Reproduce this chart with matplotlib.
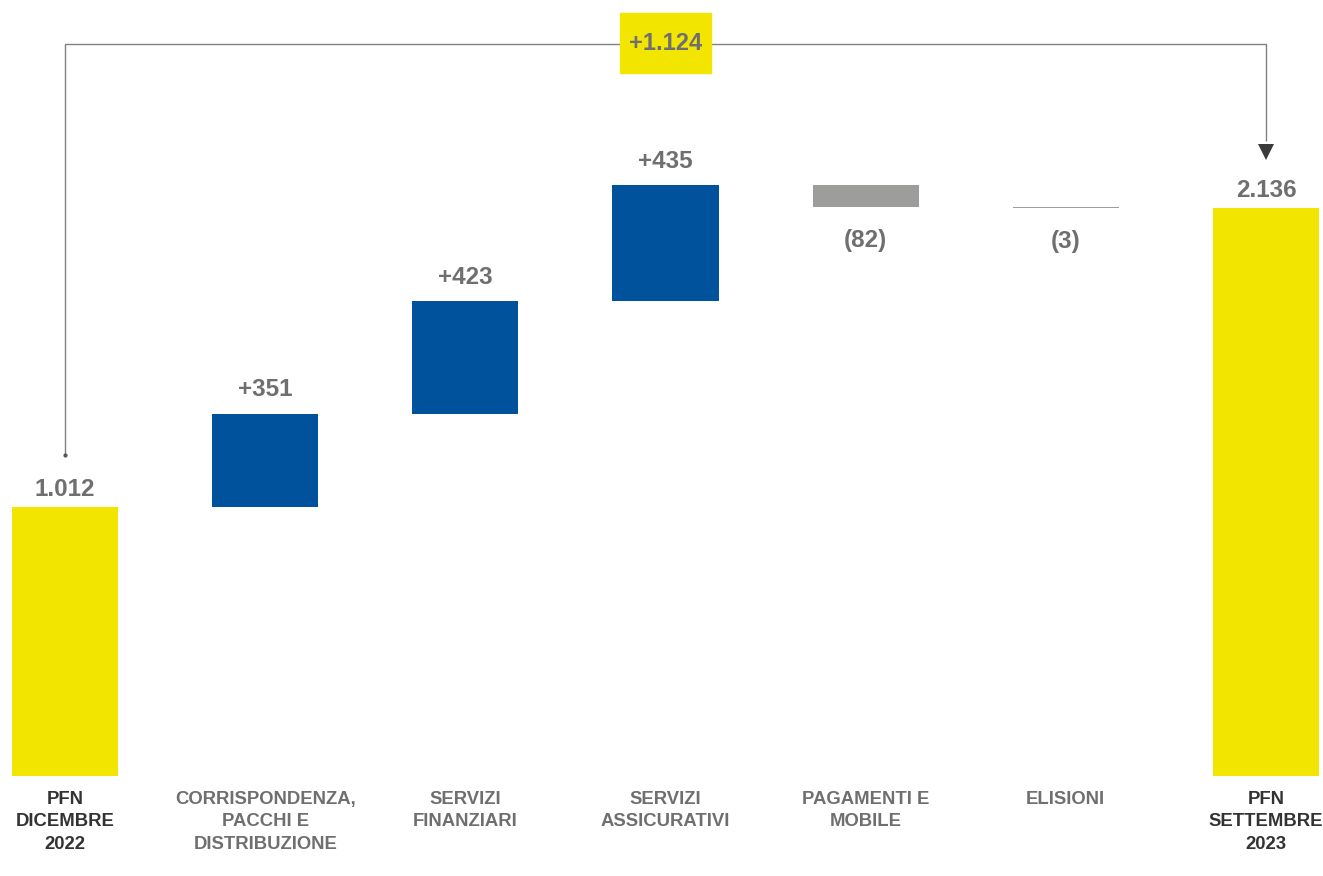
import matplotlib.pyplot as plt
from matplotlib.patches import Rectangle
import numpy as np

plt.rcParams['font.family'] = ['Liberation Sans', 'DejaVu Sans']

# dati
categorie = ['PFN\nDICEMBRE\n2022', 'CORRISPONDENZA,\nPACCHI E\nDISTRIBUZIONE',
             'SERVIZI\nFINANZIARI', 'SERVIZI\nASSICURATIVI', 'PAGAMENTI E\nMOBILE',
             'ELISIONI', 'PFN\nSETTEMBRE\n2023']
pfn_iniziale = 1012
variazioni = [351, 423, 435, -82, -3]
pfn_finale = 2136
etichette = ['1.012', '+351', '+423', '+435', '(82)', '(3)', '2.136']
etichetta_delta = '+1.124'

GIALLO = '#F2E500'
BLU = '#00529C'
GRIGIO_BAR = '#9D9D9C'
GRIGIO_TXT = '#6F6F6F'
SCURO_TXT = '#333333'

fig = plt.figure(figsize=(13.23, 8.76), dpi=100)
ax = fig.add_axes([0, 0, 1, 1])
ax.set_xlim(-0.325, 6.285)
ax.set_ylim(-376, 2918)
ax.axis('off')

x = np.arange(len(categorie))
w = 0.53

# barre
ax.bar(x[0], pfn_iniziale, width=w, color=GIALLO)
cum = pfn_iniziale
for i, v in enumerate(variazioni, start=1):
    col = BLU if v > 0 else GRIGIO_BAR
    ax.bar(x[i], v, bottom=cum, width=w, color=col, linewidth=0)
    if v > 0:
        ax.annotate(etichette[i], (x[i], cum + v), xytext=(0, 12.5), textcoords='offset points',
                    ha='center', va='baseline', fontsize=17.5, fontweight='bold', color=GRIGIO_TXT)
    else:
        ax.annotate(etichette[i], (x[i], cum + v), xytext=(0, -16), textcoords='offset points',
                    ha='center', va='top', fontsize=17.5, fontweight='bold', color=GRIGIO_TXT)
    cum += v
ax.bar(x[-1], pfn_finale, width=w, color=GIALLO)

for xi, val, lab in [(x[0], pfn_iniziale, etichette[0]), (x[-1], pfn_finale, etichette[-1])]:
    ax.annotate(lab, (xi, val), xytext=(0, 8), textcoords='offset points',
                ha='center', va='baseline', fontsize=17.5, fontweight='bold', color=GRIGIO_TXT)

# etichette categorie
for i, c in enumerate(categorie):
    col = SCURO_TXT if i in (0, len(categorie) - 1) else GRIGIO_TXT
    ax.text(x[i], -55, c, ha='center', va='top', fontsize=13.3, fontweight='bold',
            color=col, linespacing=1.45)

# connettore con freccia
y_conn = 2753
y_start = pfn_iniziale + 195
y_end = pfn_finale + 210
ax.plot([x[0], x[0], x[-1], x[-1]], [y_start, y_conn, y_conn, y_end + 40],
        color='#808080', lw=1, solid_capstyle='butt')
ax.plot(x[0], y_start, 'o', color='#555555', ms=2)
ax.plot(x[-1], y_end, marker='v', color='#3a3a3a', ms=11, markeredgewidth=0)

# box delta
xc = (x[0] + x[-1]) / 2
bw, bh = 0.455, 226
ax.add_patch(Rectangle((xc - bw / 2, y_conn - bh / 2 + 4), bw, bh, color=GIALLO, zorder=3))
ax.text(xc, y_conn, etichetta_delta, ha='center', va='center', fontsize=17, fontweight='bold',
        color=GRIGIO_TXT, zorder=4)

fig.savefig('out.png', dpi=100, facecolor='white')
